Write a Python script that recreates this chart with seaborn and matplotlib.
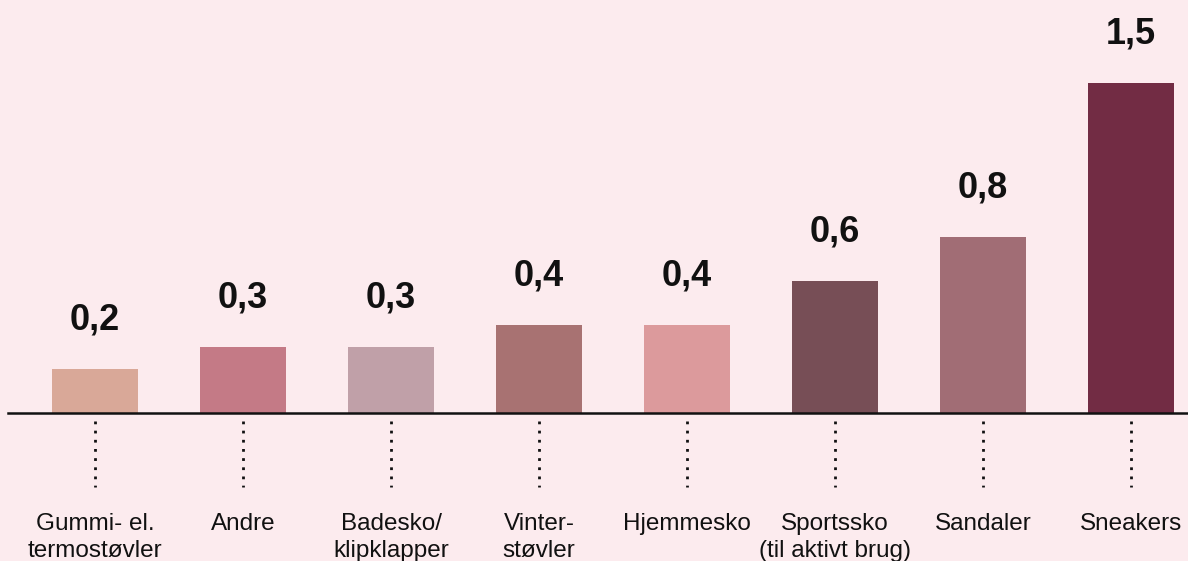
import matplotlib
matplotlib.use("Agg")
import matplotlib.pyplot as plt
import seaborn as sns
import pandas as pd

# chart data
categories = ["Gummi- el.\ntermostøvler", "Andre", "Badesko/\nklipklapper", "Vinter-\nstøvler",
              "Hjemmesko", "Sportssko\n(til aktivt brug)", "Sandaler", "Sneakers"]
values = [0.2, 0.3, 0.3, 0.4, 0.4, 0.6, 0.8, 1.5]
bar_colors = ["#d9a898", "#c47a86", "#c0a0a8", "#a87272", "#dc9a9c", "#774e56", "#a16d75", "#722c44"]

bg = "#fcebee"

sns.set_theme(style="white")
plt.rcParams["font.family"] = ["Liberation Sans", "DejaVu Sans"]

df = pd.DataFrame({"kategori": categories, "vaerdi": values})

fig = plt.figure(figsize=(11.88, 5.61), dpi=100, facecolor=bg)
ax = fig.add_axes([8 / 1188, 148 / 561, 1 - 8 / 1188, 413 / 561])
ax.set_facecolor(bg)

sns.barplot(data=df, x="kategori", y="vaerdi", hue="kategori", palette=bar_colors,
            legend=False, width=0.58, saturation=1, linewidth=0, ax=ax)

ax.set_xlim(-0.588, 7.385)
ax.set_ylim(0, 413 / 220)

# value labels above bars
for i, v in enumerate(values):
    ax.annotate(f"{v:.1f}".replace(".", ","), (i, v), xytext=(0, 35), textcoords="offset points",
                ha="center", va="center", fontsize=26, fontweight="bold", color="#111111")

# dotted connectors below the axis
ax.vlines(range(len(categories)), -0.02, -0.18, transform=ax.get_xaxis_transform(),
          colors="#111111", linewidth=2, linestyles=(0, (1, 2.3)), clip_on=False)

ax.set_xlabel("")
ax.set_ylabel("")
ax.set_yticks([])
ax.tick_params(axis="x", length=0, pad=72, labelsize=17.5, labelcolor="#111111")
for lbl in ax.get_xticklabels():
    lbl.set_linespacing(1.3)

for s in ["top", "left", "right"]:
    ax.spines[s].set_visible(False)
ax.spines["bottom"].set_color("#111111")
ax.spines["bottom"].set_linewidth(1.8)

fig.savefig("out.png", dpi=100, facecolor=bg)
